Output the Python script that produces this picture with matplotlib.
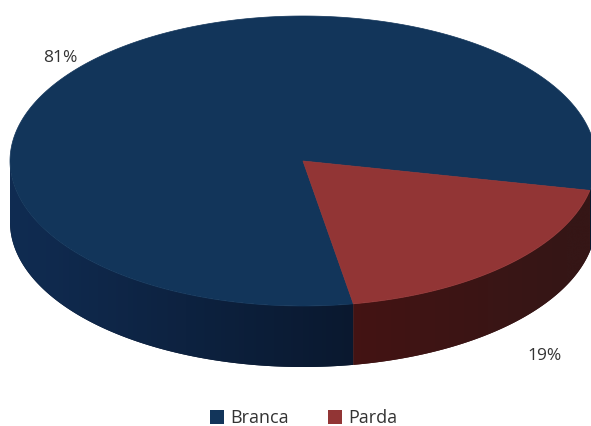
import numpy as np
import matplotlib
matplotlib.use("Agg")
import matplotlib.pyplot as plt
from matplotlib.patches import Polygon, Rectangle

categories = ["Branca", "Parda"]
values = [81, 19]
pct_labels = ["81%", "19%"]
top_colors = ["#12355a", "#923535"]
side_colors_a = [np.array([0x10, 0x2c, 0x52]) / 255, np.array([0x45, 0x13, 0x13]) / 255]
side_colors_b = [np.array([0x0a, 0x18, 0x2e]) / 255, np.array([0x35, 0x16, 0x16]) / 255]

W, H = 591, 427
fig = plt.figure(figsize=(W / 100, H / 100), dpi=100)
ax = fig.add_axes([0, 0, 1, 1])
ax.set_xlim(0, W)
ax.set_ylim(H, 0)
ax.axis("off")

cx, cy, a, b, depth = 303, 162, 293, 145, 61
start = -11.7

def pt(t):
    r = np.radians(t)
    return cx + a * np.cos(r), cy - b * np.sin(r)

total = sum(values)
bounds = []
ang = start
for v in values:
    bounds.append((ang, ang + 360 * v / total))
    ang += 360 * v / total

# side faces (front half) per slice, filled with a gradient image clipped to the face
for i, (t0, t1) in enumerate(bounds):
    segs = []
    for lo, hi in [(t0, t1), (t0 - 360, t1 - 360), (t0 + 360, t1 + 360)]:
        s0, s1 = max(lo, 180), min(hi, 360)
        if s1 > s0:
            segs.append((s0, s1))
    for s0, s1 in segs:
        tt = np.linspace(s0, s1, 200)
        xs, ys = pt(tt)
        verts = list(zip(xs, ys)) + list(zip(xs[::-1], ys[::-1] + depth))
        poly = Polygon(verts, closed=True, facecolor=side_colors_b[i], edgecolor="none")
        ax.add_patch(poly)
        xg = np.linspace(0, 1, 600)
        if i == 0:
            f = np.clip(xg / 0.6, 0, 1)
        else:
            f = np.clip((xg - 0.55) / 0.4, 0, 1)
        cols = side_colors_a[i][None, :] * (1 - f[:, None]) + side_colors_b[i][None, :] * f[:, None]
        img = np.repeat(cols[None, :, :], 2, axis=0)
        im = ax.imshow(img, extent=(cx - a, cx + a, cy + b + depth + 5, cy - 5),
                       aspect="auto", interpolation="bilinear", zorder=1)
        im.set_clip_path(poly)

ax.set_xlim(0, W)
ax.set_ylim(H, 0)

# top faces
for (t0, t1), c in zip(bounds, top_colors):
    tt = np.linspace(t0, t1, 300)
    xs, ys = pt(tt)
    verts = [(cx, cy)] + list(zip(xs, ys))
    ax.add_patch(Polygon(verts, closed=True, facecolor=c, edgecolor=c, lw=0.5, zorder=2))

font = ["Open Sans", "DejaVu Sans"]
ax.text(60, 58, pct_labels[0], ha="center", va="center", fontsize=12.5, color="#333333", family=font)
ax.text(545, 356, pct_labels[1], ha="center", va="center", fontsize=12.5, color="#333333", family=font)

# legend
lx = [210, 328]
for x, c, lab in zip(lx, top_colors, categories):
    ax.add_patch(Rectangle((x, 411), 14, 14, facecolor=c, edgecolor="none"))
    ax.text(x + 20, 418, lab, ha="left", va="center", fontsize=13, color="#333333", family=font)

fig.savefig("out.png", dpi=100)
